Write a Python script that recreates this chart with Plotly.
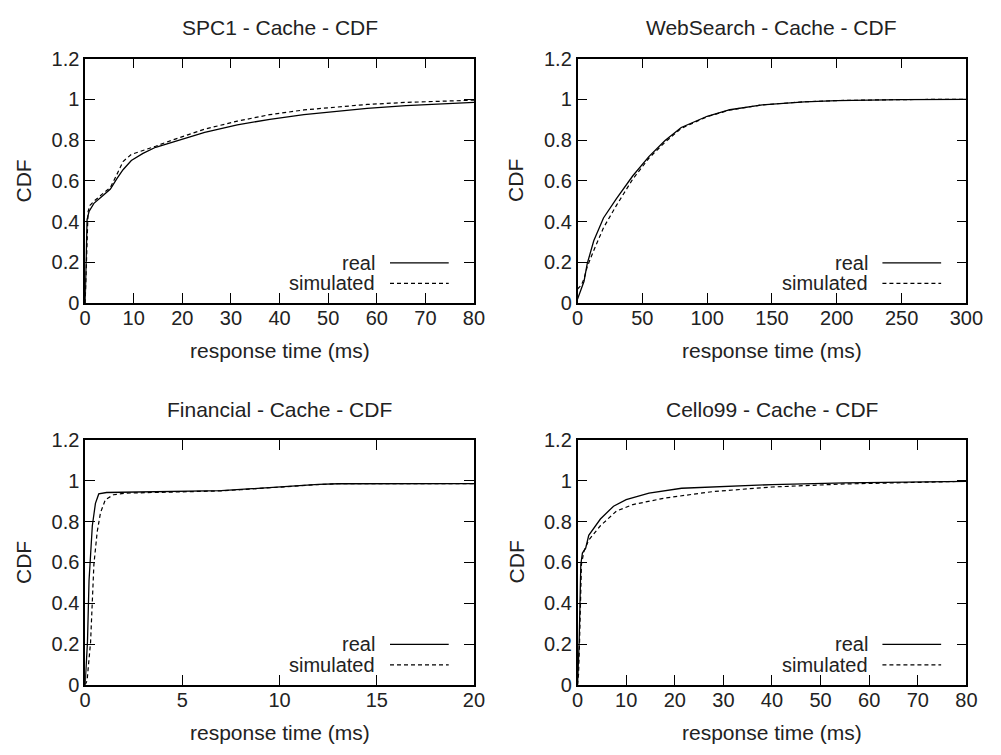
import plotly.graph_objects as go

W, H = 1001, 755

# ---------------- data ----------------
titles = ["SPC1 - Cache - CDF", "WebSearch - Cache - CDF",
          "Financial - Cache - CDF", "Cello99 - Cache - CDF"]
x_ranges = [[0, 80], [0, 300], [0, 20], [0, 80]]
x_dticks = [10, 50, 5, 10]
y_tickvals = [0, 0.2, 0.4, 0.6, 0.8, 1, 1.2]
y_ticktext = ["0", "0.2", "0.4", "0.6", "0.8", "1", "1.2"]
series_names = ["real", "simulated"]
x_title = "response time (ms)"
y_title = "CDF"

spc1_real_x = [0, 0.2, 0.4, 0.8, 1.8, 3.5, 5.2, 6.5, 7.8, 9.5, 11.9, 14.5, 17.9, 21, 24.6,
               31.3, 38, 45, 52, 58, 66, 72, 80]
spc1_real_y = [0, 0.30, 0.41, 0.45, 0.49, 0.525, 0.56, 0.61, 0.655, 0.70, 0.735, 0.765, 0.79,
               0.815, 0.838, 0.875, 0.902, 0.925, 0.943, 0.956, 0.969, 0.977, 0.985]
spc1_sim_x = [0, 0.3, 0.6, 1.0, 1.8, 3.5, 5.2, 6.5, 7.8, 9.5, 11.9, 14.5, 17.9, 21, 24.6,
              31.3, 38, 45, 52, 58, 66, 72, 80]
spc1_sim_y = [0, 0.25, 0.45, 0.48, 0.50, 0.535, 0.568, 0.63, 0.695, 0.73, 0.748, 0.77, 0.80,
              0.825, 0.854, 0.893, 0.925, 0.948, 0.963, 0.975, 0.985, 0.99, 0.996]

web_real_x = [0, 2.5, 5, 7.5, 12.5, 20, 30, 42.5, 55, 67.5, 80, 100, 117.5, 142.5, 175, 200, 250, 300]
web_real_y = [0.02, 0.06, 0.108, 0.195, 0.306, 0.418, 0.513, 0.624, 0.719, 0.798, 0.862, 0.917,
              0.949, 0.973, 0.988, 0.994, 0.999, 1.0]
web_sim_x = [0, 3, 5, 7.5, 12.5, 20, 30, 42.5, 55, 67.5, 80, 100, 117.5, 142.5, 175, 200, 250, 300]
web_sim_y = [0.07, 0.09, 0.12, 0.18, 0.259, 0.37, 0.48, 0.608, 0.711, 0.79, 0.858, 0.915,
             0.948, 0.973, 0.988, 0.994, 0.999, 1.0]

fin_real_x = [0, 0.12, 0.2, 0.37, 0.53, 0.7, 1.1, 3, 6, 7, 8, 9, 10, 11, 12, 13, 15, 20]
fin_real_y = [0, 0.21, 0.51, 0.78, 0.89, 0.936, 0.943, 0.945, 0.948, 0.952, 0.958, 0.965,
              0.972, 0.978, 0.983, 0.986, 0.987, 0.987]
fin_sim_x = [0, 0.1, 0.28, 0.45, 0.62, 0.79, 1.04, 1.46, 2.1, 3.6, 6, 7, 8, 9, 10, 11, 12, 13, 15, 20]
fin_sim_y = [0, 0.02, 0.21, 0.59, 0.75, 0.844, 0.908, 0.932, 0.94, 0.943, 0.947, 0.951, 0.957,
             0.964, 0.971, 0.977, 0.982, 0.986, 0.987, 0.987]

cello_real_x = [0, 0.33, 0.67, 1.0, 1.67, 2.3, 4.7, 7.4, 10, 14.7, 21.4, 28, 40, 55, 70, 80]
cello_real_y = [0, 0.21, 0.59, 0.646, 0.67, 0.733, 0.813, 0.876, 0.908, 0.94, 0.964, 0.971,
                0.982, 0.99, 0.995, 0.998]
cello_sim_x = [0, 0.2, 0.4, 0.8, 1.3, 2.3, 4.7, 8, 11.4, 18, 28, 40, 55, 70, 80]
cello_sim_y = [0, 0.05, 0.2, 0.59, 0.654, 0.71, 0.78, 0.852, 0.884, 0.916, 0.948, 0.97,
               0.985, 0.993, 0.998]

panels = [
    (spc1_real_x, spc1_real_y, spc1_sim_x, spc1_sim_y),
    (web_real_x, web_real_y, web_sim_x, web_sim_y),
    (fin_real_x, fin_real_y, fin_sim_x, fin_sim_y),
    (cello_real_x, cello_real_y, cello_sim_x, cello_sim_y),
]

# ---------------- layout geometry (page pixels) ----------------
col_px = [(81, 479), (585, 983)]
row_px = [(49, 301), (442, 694)]


def px_x(p):
    return p / W


def px_y(p):
    return 1 - p / H


FONT = "Liberation Sans, Arial, Helvetica, sans-serif"
TXT = "#222222"

fig = go.Figure()
layout = dict(
    width=W, height=H, autosize=False,
    margin=dict(l=0, r=0, t=0, b=0, pad=0),
    paper_bgcolor="white", plot_bgcolor="white",
    showlegend=False,
    font=dict(family=FONT, size=20, color=TXT),
)
annotations = []
shapes = []

for i, (rx, ry, sx, sy) in enumerate(panels):
    r, c = divmod(i, 2)
    x0p, x1p = col_px[c]
    y0p, y1p = row_px[r]
    suffix = "" if i == 0 else str(i + 1)
    xa, ya = "x" + suffix, "y" + suffix
    fig.add_trace(go.Scatter(x=rx, y=ry, mode="lines", name=series_names[0],
                             line=dict(color="black", width=1.3), xaxis=xa, yaxis=ya))
    fig.add_trace(go.Scatter(x=sx, y=sy, mode="lines", name=series_names[1],
                             line=dict(color="black", width=1.2, dash="4px,3px"), xaxis=xa, yaxis=ya))
    common = dict(showline=True, linecolor="black", linewidth=1.5, mirror="ticks",
                  ticks="inside", ticklen=10, tickwidth=1.3, tickcolor="black",
                  showgrid=False, zeroline=False, fixedrange=True,
                  tickfont=dict(family=FONT, size=20, color=TXT))
    layout["xaxis" + suffix] = dict(domain=[px_x(x0p), px_x(x1p)], anchor=ya,
                                    range=x_ranges[i], tick0=0, dtick=x_dticks[i],
                                    ticklabelstandoff=-4, **common)
    layout["yaxis" + suffix] = dict(domain=[px_y(y1p), px_y(y0p)], anchor=xa,
                                    range=[0, 1.2], tickvals=y_tickvals, ticktext=y_ticktext,
                                    **common)
    cx = px_x((x0p + x1p) / 2)
    # panel title
    annotations.append(dict(text=titles[i], x=cx, y=px_y(y0p - 32), xref="paper", yref="paper",
                            xanchor="center", yanchor="middle", showarrow=False,
                            font=dict(size=21, color=TXT)))
    # x axis title
    annotations.append(dict(text=x_title, x=cx, y=px_y(y1p + 49), xref="paper", yref="paper",
                            xanchor="center", yanchor="middle", showarrow=False,
                            font=dict(size=21, color=TXT)))
    # y axis title
    annotations.append(dict(text=y_title, x=px_x(x0p - 63), y=px_y((y0p + y1p) / 2),
                            xref="paper", yref="paper", xanchor="center", yanchor="middle",
                            textangle=-90, showarrow=False, font=dict(size=21, color=TXT)))
    # legend
    for k, (ly, dash) in enumerate([(0.165, "solid"), (0.081, "4px,3px")]):
        annotations.append(dict(text=series_names[k], x=0.751, y=ly, xref=xa + " domain",
                                yref=ya + " domain", xanchor="right", yanchor="middle",
                                showarrow=False, font=dict(size=20, color=TXT)))
        shapes.append(dict(type="line", x0=0.784, x1=0.935, y0=ly, y1=ly,
                           xref=xa + " domain", yref=ya + " domain",
                           line=dict(color="black", width=1.2, dash=dash)))

layout["annotations"] = annotations
layout["shapes"] = shapes
fig.update_layout(**layout)
fig.write_html("out.html", config={"displayModeBar": False},
               post_script="document.body.style.margin='0';document.body.style.overflow='hidden';")
